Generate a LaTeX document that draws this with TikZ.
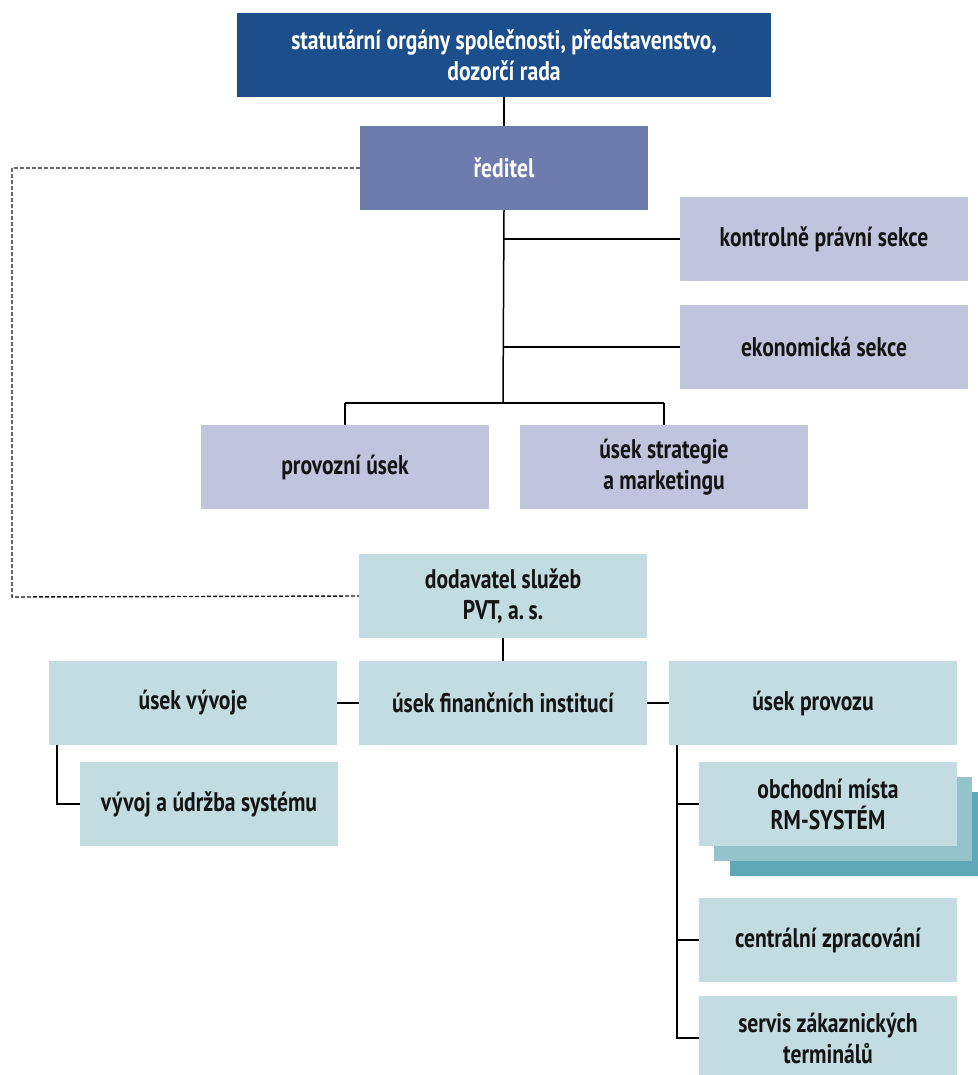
\documentclass[tikz,border=0pt]{standalone}
\usepackage{fontspec}
\setmainfont{PT Sans}[FakeStretch=0.8]
\definecolor{cTop}{RGB}{28,78,140}
\definecolor{cDir}{RGB}{110,123,173}
\definecolor{cLav}{RGB}{194,195,221}
\definecolor{cTeal}{RGB}{194,220,226}
\definecolor{cSh1}{RGB}{148,195,203}
\definecolor{cSh2}{RGB}{94,168,184}
\definecolor{cTxt}{RGB}{20,20,20}
\tikzset{
  box/.style={draw=none, inner sep=0pt, minimum height=84pt, align=center,
    font=\fontsize{27}{31}\selectfont\bfseries, text=cTxt},
  wide/.style={box, minimum width=288pt},
  narrow/.style={box, minimum width=258pt},
  conn/.style={line width=1.5pt, black},
  dashconn/.style={line width=1.4pt, dash pattern=on 4pt off 2pt, black!90},
}
\begin{document}
\begin{tikzpicture}[x=1pt,y=-1pt]
\useasboundingbox (0,0) rectangle (977,1075);
% nodes
\node[box, minimum width=534pt, fill=cTop, text=white] (top) at (504,55)
  {statutární orgány společnosti, představenstvo,\\dozorčí rada};
\node[wide, fill=cDir, text=white] (red) at (504,168) {ředitel};
\node[wide, fill=cLav] (kps) at (824,239) {kontrolně právní sekce};
\node[wide, fill=cLav] (eko) at (824,347) {ekonomická sekce};
\node[wide, fill=cLav] (prov) at (345,467) {provozní úsek};
\node[wide, fill=cLav] (strat) at (664,467) {úsek strategie\\a marketingu};
\node[wide, fill=cTeal] (dod) at (503,596) {dodavatel služeb\\PVT, a.\,s.};
\node[wide, fill=cTeal] (vyv) at (193,703) {úsek vývoje};
\node[wide, fill=cTeal] (fin) at (503,703) {úsek finančních institucí};
\node[wide, fill=cTeal] (pvz) at (813,703) {úsek provozu};
\node[narrow, fill=cTeal] (udr) at (209,804) {vývoj a údržba systému};
\node[narrow, fill=cSh2] (sh2) at (859,834) {};
\node[narrow, fill=cSh1] (sh1) at (843,819) {};
\node[narrow, fill=cTeal] (obch) at (828,804) {obchodní místa\\RM-SYSTÉM};
\node[narrow, fill=cTeal] (cent) at (828,940) {centrální zpracování};
\node[narrow, fill=cTeal] (serv) at (828,1038) {servis zákaznických\\terminálů};
% helper coordinates
\coordinate (t1) at (503,239);
\coordinate (t2) at (503,347);
\coordinate (t3) at (503,403);
\coordinate (t4) at (345,403);
\coordinate (t5) at (664,403);
\coordinate (d1) at (12,168);
\coordinate (d2) at (12,597);
\coordinate (v1) at (57,745);
\coordinate (v2) at (57,804);
\coordinate (p1) at (677,745);
\coordinate (p2) at (677,804);
\coordinate (p3) at (677,940);
\coordinate (p4) at (677,1038);
% connectors
\draw[conn] (top.south) -- (red.north);
\draw[conn] (red.south) -- (t3);
\draw[conn] (t1) -- (kps.west);
\draw[conn] (t2) -- (eko.west);
\draw[conn] (t4) -- (t5);
\draw[conn] (t4) -- (prov.north);
\draw[conn] (t5) -- (strat.north);
\draw[dashconn] (red.west) -- (d1) -- (d2) -- (dod.west);
\draw[conn] (dod.south) -- (fin.north);
\draw[conn] (vyv.east) -- (fin.west);
\draw[conn] (fin.east) -- (pvz.west);
\draw[conn] (v1) -- (v2) -- (udr.west);
\draw[conn] (p1) -- (p4) -- (serv.west);
\draw[conn] (p2) -- (obch.west);
\draw[conn] (p3) -- (cent.west);
\end{tikzpicture}
\end{document}
